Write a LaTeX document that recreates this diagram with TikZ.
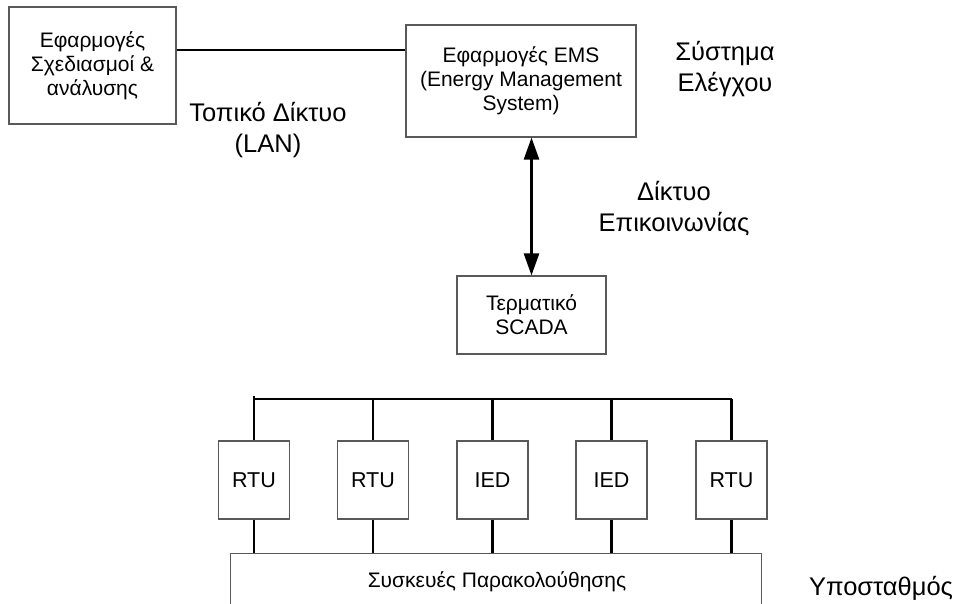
\documentclass[tikz,border=0pt]{standalone}
\usepackage{fontspec}
\setmainfont{Liberation Sans}
\usetikzlibrary{arrows.meta}

\begin{document}
\begin{tikzpicture}[x=1pt, y=-1pt,
  box/.style={draw=black!65, line width=1.1pt, align=center, inner sep=0pt,
              font=\fontsize{21}{24}\selectfont},
  unitbox/.style={draw=black!65, line width=1.1pt, inner sep=0pt,
              font=\fontsize{21.5}{24}\selectfont,
              text height=15.5pt, text depth=0pt,
              minimum width=71pt, minimum height=78pt},
  label/.style={align=center, inner sep=0pt, font=\fontsize{25.5}{31}\selectfont},
  wire/.style={draw=black, line width=2.4pt},
  link/.style={wire, {Triangle[width=15pt,length=22pt]}-{Triangle[width=15pt,length=22pt]}}
]
\useasboundingbox (0,0) rectangle (955,603);
\clip (0,0) rectangle (955,603);

% control centre
\node[box, minimum width=167pt, minimum height=117pt] (apps) at (92.5,65.5)
  {Εφαρμογές\\Σχεδιασμοί \&\\ανάλυσης};
\node[box, minimum width=230pt, minimum height=112pt] (ems) at (521,81)
  {Εφαρμογές EMS\\(Energy Management\\System)};
\node[box, minimum width=149pt, minimum height=78pt] (scada) at (531.5,315)
  {Τερματικό\\SCADA};

% substation devices
\node[unitbox] (u1) at (254,480) {RTU};
\node[unitbox] (u2) at (373,480) {RTU};
\node[unitbox] (u3) at (492.5,480) {IED};
\node[unitbox] (u4) at (611.5,480) {IED};
\node[unitbox] (u5) at (731.5,480) {RTU};
\node[box, anchor=north west, minimum width=531pt, minimum height=90pt] (mon) at (230,553) {};
\node[label, font=\fontsize{21}{24}\selectfont, anchor=base] (monlabel) at (497,587)
  {Συσκευές Παρακολούθησης};

% free-standing labels
\node[label] (lan) at (268,130) {Τοπικό Δίκτυο\\(LAN)};
\node[label] (ctrl) at (725,69) {Σύστημα\\Ελέγχου};
\node[label] (comm) at (674,209) {Δίκτυο\\Επικοινωνίας};
\node[label, anchor=base] (sub) at (881,595) {Υποσταθμός};

% LAN link
\coordinate (lanlevel) at (300,50);
\draw[wire] (apps.east |- lanlevel) -- (ems.west |- lanlevel);

% communication network
\draw[link] (scada.north |- ems.south) -- (scada.north);

% device bus
\coordinate (bus) at (254,399);
\coordinate (bustop) at (254,395.5);
\draw[wire] (u1.north |- bus) -- (u5.north |- bus);
\draw[wire] (u1.north) -- (u1.north |- bustop);
\foreach \u in {u2,u3,u4,u5}
  \draw[wire] (\u.north) -- (\u.north |- bus);
\foreach \u in {u1,u2,u3,u4,u5}
  \draw[wire] (\u.south) -- (\u.south |- mon.north);
\end{tikzpicture}
\end{document}
